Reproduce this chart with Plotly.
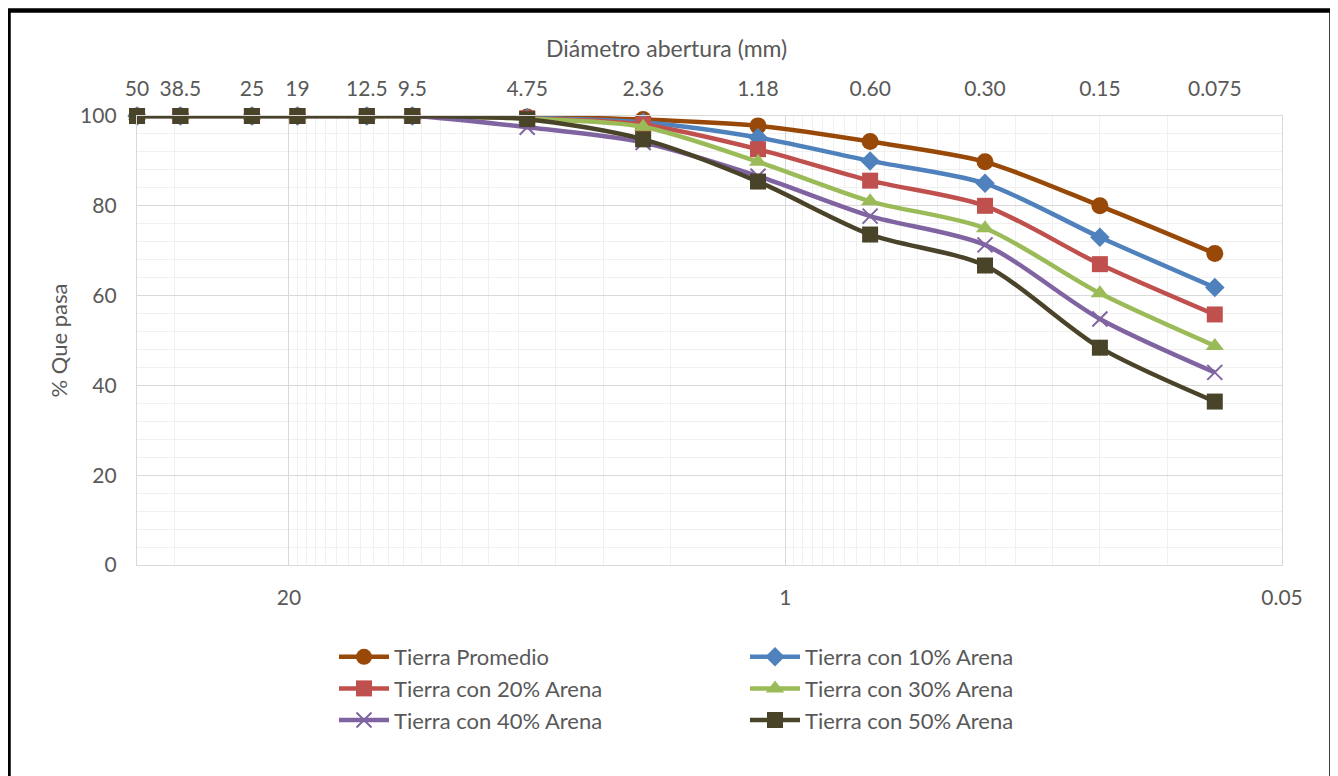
import math
import plotly.graph_objects as go

# ---- data ----
sieve_mm = [50, 38.5, 25, 19, 12.5, 9.5, 4.75, 2.36, 1.18, 0.60, 0.30, 0.15, 0.075]
sieve_labels = ["50", "38.5", "25", "19", "12.5", "9.5", "4.75", "2.36", "1.18", "0.60", "0.30", "0.15", "0.075"]

series_names = ["Tierra Promedio", "Tierra con 10% Arena", "Tierra con 20% Arena",
                "Tierra con 30% Arena", "Tierra con 40% Arena", "Tierra con 50% Arena"]

tierra_promedio = [100, 100, 100, 100, 100, 100, 99.8, 99.2, 97.8, 94.3, 89.8, 80.0, 69.4]
tierra_10 = [100, 100, 100, 100, 100, 100, 99.6, 98.6, 95.2, 90.0, 85.0, 73.0, 61.8]
tierra_20 = [100, 100, 100, 100, 100, 100, 99.5, 98.1, 92.6, 85.6, 80.0, 67.0, 55.8]
tierra_30 = [100, 100, 100, 100, 100, 100, 99.4, 97.6, 89.8, 81.0, 75.0, 60.5, 48.8]
tierra_40 = [100, 100, 100, 100, 100, 100, 97.5, 94.1, 86.6, 77.7, 71.3, 54.8, 42.9]
tierra_50 = [100, 100, 100, 100, 100, 100, 99.3, 94.8, 85.4, 73.6, 66.7, 48.4, 36.4]

bottom_tickvals = [20, 1, 0.05]
bottom_ticktext = ["20", "1", "0.05"]

# ---- styles ----
colors = ["#984807", "#4F81BD", "#C0504D", "#9BBB59", "#8064A2", "#494429"]
symbols = ["circle", "diamond", "square", "triangle-up", "x-thin", "square"]
msizes = [17, 15, 16, 16, 15, 16]
FONT = "Lato"
TXT = "#595959"

# page body has an 8px margin; plot area in figure coordinates
L, R, T, B = 129, 1274, 108, 557
W_PA, H_PA = R - L, B - T


def px(xp):
    return (xp - 8 - L) / W_PA


def py(yp):
    return (B - (yp - 8)) / H_PA


all_series = [tierra_promedio, tierra_10, tierra_20, tierra_30, tierra_40, tierra_50]

fig = go.Figure()
for name, vals, c, s, ms in zip(series_names, all_series, colors, symbols, msizes):
    marker = dict(symbol=s, size=ms, color=c)
    if s == "x-thin":
        marker["line"] = dict(color=c, width=2)
    else:
        marker["line"] = dict(width=0)
    fig.add_trace(go.Scatter(
        x=sieve_mm, y=vals, name=name, mode="lines+markers",
        line=dict(color=c, width=4.5, shape="spline", smoothing=0.8),
        marker=marker, cliponaxis=False,
    ))

# invisible trace to carry the top (sieve) axis
fig.add_trace(go.Scatter(x=sieve_mm, y=tierra_promedio, xaxis="x2", mode="none",
                         showlegend=False, hoverinfo="skip"))

# minor gridline positions on log base-20 axis
minor_vals = [40] + [k for k in range(2, 20)] + [round(k * 0.05, 2) for k in range(2, 20)]

xrange = [math.log10(50) + 1e-4, math.log10(0.05)]  # reversed

fig.update_layout(
    width=1338, height=776,
    margin=dict(l=L, r=1338 - R, t=T, b=776 - B),
    paper_bgcolor="white", plot_bgcolor="white",
    font=dict(family=FONT, size=21, color=TXT),
    xaxis=dict(
        type="log", range=xrange,
        tickmode="array", tickvals=bottom_tickvals, ticktext=bottom_ticktext,
        ticks="outside", ticklen=14, tickcolor="rgba(0,0,0,0)",
        showgrid=True, gridcolor="#D9D9D9", gridwidth=1.3,
        showline=True, linecolor="#D9D9D9", linewidth=1.3, mirror=True,
        zeroline=False,
        minor=dict(tickmode="array", tickvals=minor_vals, showgrid=True,
                   gridcolor="#F0F0F0", gridwidth=1.2),
        tickfont=dict(family=FONT, size=21, color=TXT),
    ),
    xaxis2=dict(
        type="log", range=xrange, overlaying="x", side="top", anchor="y",
        tickmode="array", tickvals=sieve_mm, ticktext=sieve_labels,
        ticks="outside", ticklen=11, tickcolor="rgba(0,0,0,0)",
        showgrid=False, showline=False, zeroline=False,
        tickfont=dict(family=FONT, size=21, color=TXT),
    ),
    yaxis=dict(
        range=[0, 100], tickmode="linear", tick0=0, dtick=20,
        ticks="outside", ticklen=15, tickcolor="rgba(0,0,0,0)",
        showgrid=True, gridcolor="#D9D9D9", gridwidth=1.3,
        showline=True, linecolor="#D9D9D9", linewidth=1.3, mirror=True,
        zeroline=False,
        minor=dict(dtick=4, showgrid=True, gridcolor="#F0F0F0", gridwidth=1.2),
        tickfont=dict(family=FONT, size=21, color=TXT),
        title=dict(text="% Que pasa", font=dict(family=FONT, size=22, color=TXT), standoff=6),
    ),
    legend=dict(
        orientation="h", x=px(334), xanchor="left",
        y=py(636), yanchor="top",
        itemwidth=50, entrywidth=346, entrywidthmode="pixels",
        font=dict(family=FONT, size=22, color=TXT),
        bgcolor="rgba(0,0,0,0)", borderwidth=0,
    ),
    showlegend=True,
    annotations=[dict(
        text="Diámetro abertura (mm)", xref="paper", yref="paper",
        x=px(666.7), y=py(48), xanchor="center", yanchor="middle",
        showarrow=False, font=dict(family=FONT, size=23, color=TXT),
    )],
    shapes=[dict(
        type="rect", xref="paper", yref="paper",
        x0=px(8.5), x1=px(1331.5),
        y0=py(800), y1=py(10.5),
        line=dict(color="black", width=4.5), fillcolor="rgba(0,0,0,0)", layer="above",
    )],
)

fig.write_html("out.html")
